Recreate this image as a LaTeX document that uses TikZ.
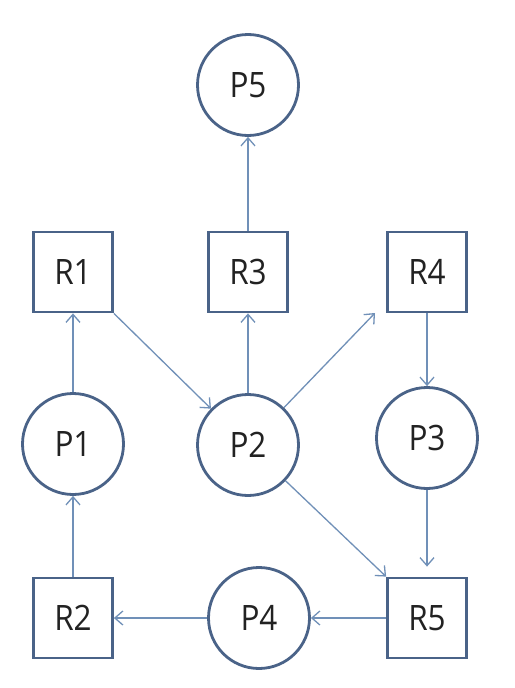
\documentclass[tikz,border=0pt]{standalone}
\usepackage{fontspec}
\setmainfont{Open Sans}
\usetikzlibrary{arrows.meta}
\definecolor{edgecol}{HTML}{4A6388}
\definecolor{arrcol}{HTML}{7090B8}
\definecolor{txtcol}{HTML}{222222}
\newcommand{\lbl}[1]{\scalebox{0.9}[1]{#1}}
\tikzset{
  proc/.style={circle, draw=edgecol, line width=2.8pt, minimum size=101pt, inner sep=0pt, text=txtcol, font=\fontsize{35}{40}\selectfont},
  res/.style={rectangle, draw=edgecol, line width=2.8pt, minimum width=79pt, minimum height=80pt, inner sep=0pt, text=txtcol, font=\fontsize{35}{40}\selectfont},
  arr/.style={draw=arrcol, line width=1.3pt, -{Straight Barb[length=8pt,width=14pt,line width=1.3pt]}}
}
\begin{document}
\begin{tikzpicture}[x=1pt,y=-1pt]
\useasboundingbox (0,0) rectangle (514,688);
\fill[white] (0,0) rectangle (514,688);
\node[proc] (P5) at (248,85) {\lbl{P5}};
\node[res] (R1) at (73,272) {\lbl{R1}};
\node[res] (R3) at (248,272) {\lbl{R3}};
\node[res] (R4) at (427,272) {\lbl{R4}};
\node[proc] (P1) at (73,444) {\lbl{P1}};
\node[proc] (P2) at (248,445) {\lbl{P2}};
\node[proc] (P3) at (427,438) {\lbl{P3}};
\node[res] (R2) at (73,618) {\lbl{R2}};
\node[proc] (P4) at (259,618) {\lbl{P4}};
\node[res] (R5) at (427,618) {\lbl{R5}};
\coordinate (r4tip) at (375,313);
\draw[arr] (R3) -- (P5);
\draw[arr] (P1) -- (R1);
\draw[arr] (R1.south east) -- (P2);
\draw[arr] (P2) -- (R3);
\draw[arr] (P2) -- (r4tip);
\draw[arr] (R4) -- (P3);
\draw[arr, shorten >=10pt] (P3) -- (R5);
\draw[arr] (P2) -- (R5.north west);
\draw[arr] (R5) -- (P4);
\draw[arr] (P4) -- (R2);
\draw[arr] (R2) -- (P1);
\end{tikzpicture}
\end{document}
